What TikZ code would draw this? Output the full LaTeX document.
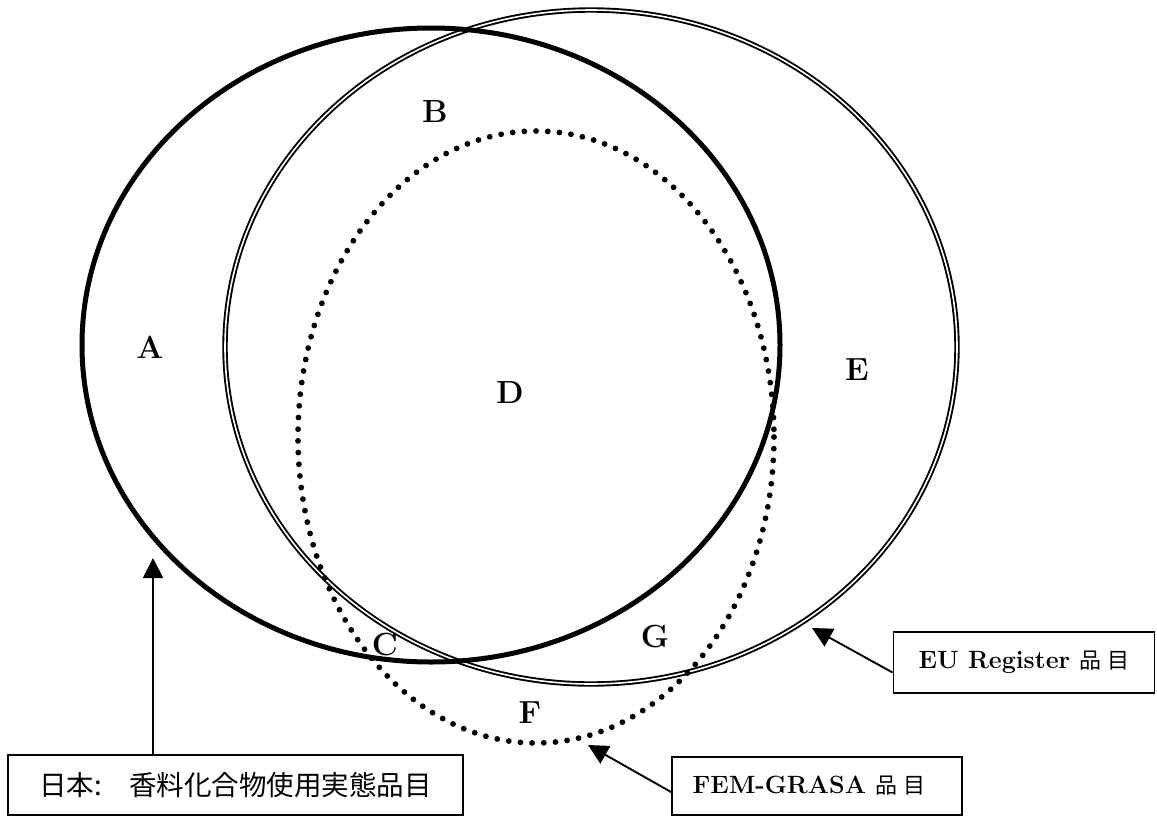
\documentclass[tikz,border=0pt]{standalone}
\usepackage{fontspec}
\newfontfamily\cjk{Noto Sans CJK JP}
\usetikzlibrary{arrows.meta}
\tikzset{
  thickline/.style={line width=5pt},
  dblline/.style={line width=1.9pt, double, double distance=1.6pt},
  dotline/.style={line width=5.8pt, line cap=round, dash pattern=on 0pt off 11.7pt},
  lbl/.style={font=\fontsize{32}{38}\selectfont\bfseries, inner sep=0pt},
  boxnode/.style={draw, line width=1.9pt, inner sep=0pt, align=center},
  arr/.style={line width=1.9pt, -{Triangle[length=20pt,width=20pt]}},
}
\newcommand{\hinmoku}{{\normalfont\cjk\fontsize{22}{26}\selectfont 品\hspace{6pt}目}}
\begin{document}
\begin{tikzpicture}[x=1pt,y=-1pt]
\useasboundingbox (0,0) rectangle (1157,817);
% EU Register (double)
\draw[dblline] (591,347) ellipse [x radius=366, y radius=337];
% Japan (thick)
\draw[thickline] (431,345) ellipse [x radius=349, y radius=317];
% FEM-GRASA (dotted)
\draw[dotline] (536,437) ellipse [x radius=238, y radius=306];
% region labels
\node[lbl] (A) at (150,347) {A};
\node[lbl] (B) at (435,112) {B};
\node[lbl] (C) at (385,645) {C};
\node[lbl] (D) at (510,393) {D};
\node[lbl] (E) at (857,370) {E};
\node[lbl] (F) at (530,713) {F};
\node[lbl] (G) at (655,637) {G};
% boxes
\node[boxnode, minimum width=261pt, minimum height=61pt] (eu) at (1024,662.5)
  {\fontsize{25}{30}\selectfont\bfseries EU Register \hinmoku};
\node[boxnode, minimum width=290pt, minimum height=58pt] (fem) at (817,786)
  {\fontsize{25}{30}\selectfont\bfseries FEM-GRASA \hinmoku\hspace*{16pt}};
\node[boxnode, minimum width=455pt, minimum height=60pt] (jp) at (235.5,785)
  {\cjk\fontsize{27.5}{30}\selectfont 日本:\hspace{27pt}香料化合物使用実態品目};
% arrows
\coordinate (jptip) at (153,558);
\coordinate (eutip) at (812,628);
\coordinate (femtip) at (588,745);
\draw[arr] (jp.north -| jptip) -- (jptip);
\draw[arr] ([yshift=-10pt]eu.west) -- (eutip);
\draw[arr] ([yshift=-6pt]fem.west) -- (femtip);
\end{tikzpicture}
\end{document}
